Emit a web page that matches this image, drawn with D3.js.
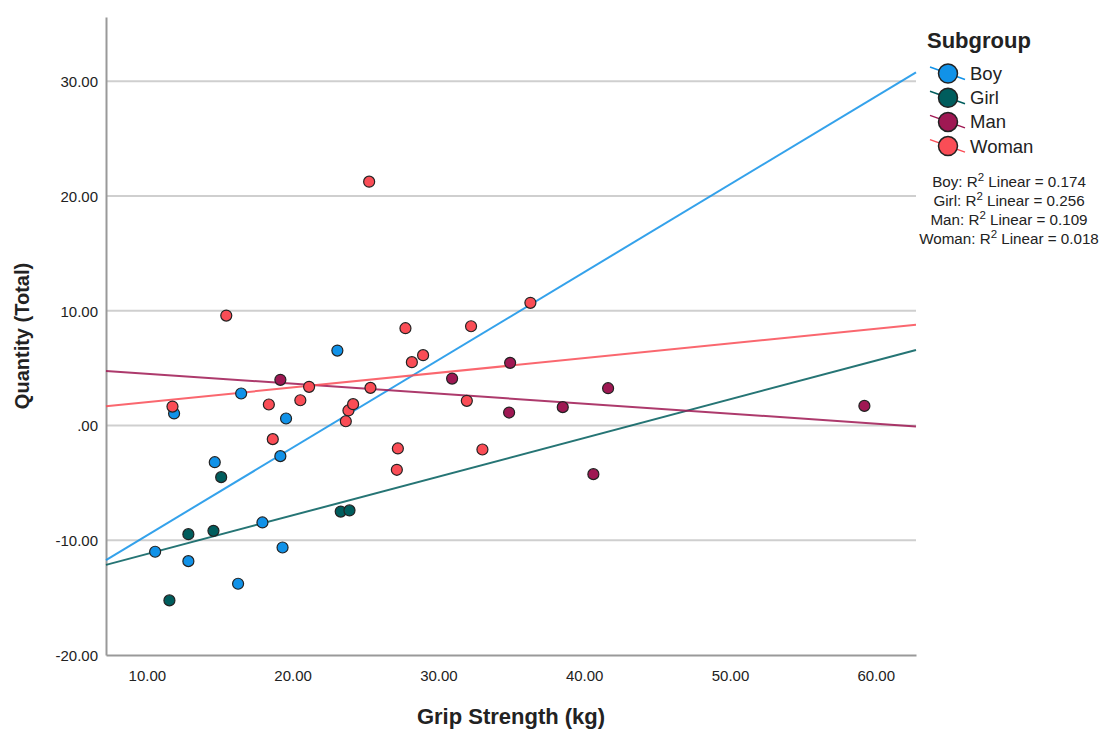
<!DOCTYPE html>
<html>
<head>
<meta charset="utf-8">
<script src="https://cdn.jsdelivr.net/npm/d3@7"></script>
<style>
  body { margin: 0; background: #fff; }
  text { font-family: "Liberation Sans", Arial, sans-serif; fill: #222; }
</style>
</head>
<body>
<svg id="chart" width="1102" height="729"></svg>
<script>
    // values
    var groups = ["Boy", "Girl", "Man", "Woman"];
    var groupColors = ["#1192e8", "#005d5d", "#9f1853", "#fa4d56"];
    var rSquared = ["0.174", "0.256", "0.109", "0.018"];

    var boyX = [11.87, 16.47, 19.55, 14.66, 19.16, 23.07, 10.57, 12.85, 17.93, 19.31, 16.26];
    var boyY = [1.05, 2.79, 0.61, -3.2, -2.67, 6.53, -11.0, -11.82, -8.45, -10.63, -13.79];

    var girlX = [15.1, 12.85, 14.57, 11.55, 23.3, 23.9];
    var girlY = [-4.5, -9.47, -9.18, -15.24, -7.5, -7.4];

    var manX = [19.16, 30.94, 34.92, 34.85, 38.53, 41.64, 40.63, 59.22];
    var manY = [3.98, 4.09, 5.46, 1.13, 1.6, 3.25, -4.24, 1.71];

    var womanX = [11.76, 15.45, 25.25, 18.37, 18.64, 20.53, 21.13, 23.65, 23.83, 24.15,
                  25.34, 27.74, 28.18, 28.95, 32.24, 31.95, 36.31, 27.22, 27.15, 33.02];
    var womanY = [1.65, 9.58, 21.25, 1.83, -1.19, 2.2, 3.37, 0.37, 1.31, 1.86,
                  3.28, 8.48, 5.52, 6.13, 8.65, 2.15, 10.69, -2.0, -3.86, -2.09];

    var xTicks = [10, 20, 30, 40, 50, 60];
    var xTickLabels = ["10.00", "20.00", "30.00", "40.00", "50.00", "60.00"];
    var yTicks = [-20, -10, 0, 10, 20, 30];
    var yTickLabels = ["-20.00", "-10.00", ".00", "10.00", "20.00", "30.00"];

    var seriesX = [boyX, girlX, manX, womanX];
    var seriesY = [boyY, girlY, manY, womanY];

    var svg = d3.select("#chart");

    var x = d3.scaleLinear().domain([7.2, 62.76]).range([106, 916]);
    var y = d3.scaleLinear().domain([-20, 35.6]).range([655, 17]);

    // gridlines
    svg.append("g")
        .selectAll("line")
        .data(yTicks.filter(function (d) { return d > -20; }))
        .enter()
        .append("line")
        .attr("x1", x.range()[0])
        .attr("x2", x.range()[1])
        .attr("y1", function (d) { return y(d); })
        .attr("y2", function (d) { return y(d); })
        .style("stroke", "#cfcfcf")
        .style("stroke-width", 2);

    // axes (no tick marks, SPSS style)
    var xAxis = svg.append("g")
        .attr("transform", "translate(0," + y.range()[0] + ")")
        .call(d3.axisBottom(x).tickValues(xTicks).tickSize(0).tickPadding(15)
            .tickFormat(function (d, i) { return xTickLabels[i]; }));
    var yAxis = svg.append("g")
        .attr("transform", "translate(" + x.range()[0] + ",0)")
        .call(d3.axisLeft(y).tickValues(yTicks).tickSize(0).tickPadding(8)
            .tickFormat(function (d, i) { return yTickLabels[i]; }));

    [xAxis, yAxis].forEach(function (a) {
        a.select(".domain").style("stroke", "#999").style("stroke-width", 2);
        a.selectAll("text").style("font-size", "15px").style("fill", "#222")
            .style("font-family", "'Liberation Sans', Arial, sans-serif");
    });
    yAxis.selectAll("text").attr("dy", "0.36em");

    // linear fit per subgroup
    function fit(xs, ys) {
        var mx = d3.mean(xs), my = d3.mean(ys), sxy = 0, sxx = 0;
        xs.forEach(function (v, i) {
            sxy += (v - mx) * (ys[i] - my);
            sxx += (v - mx) * (v - mx);
        });
        var b = sxy / sxx;
        return { a: my - b * mx, b: b };
    }

    groups.forEach(function (g, i) {
        var f = fit(seriesX[i], seriesY[i]);
        var d0 = x.domain()[0], d1 = x.domain()[1];
        svg.append("line")
            .attr("class", "fit")
            .attr("x1", x(d0)).attr("y1", y(f.a + f.b * d0))
            .attr("x2", x(d1)).attr("y2", y(f.a + f.b * d1))
            .style("stroke", groupColors[i])
            .style("stroke-width", 2)
            .style("opacity", 0.85);
    });

    // points
    groups.forEach(function (g, i) {
        var pts = seriesX[i].map(function (v, j) { return [v, seriesY[i][j]]; });
        svg.append("g")
            .selectAll("circle")
            .data(pts)
            .enter()
            .append("circle")
            .attr("cx", function (d) { return x(d[0]); })
            .attr("cy", function (d) { return y(d[1]); })
            .attr("r", 5.5)
            .style("fill", groupColors[i])
            .style("stroke", "#222")
            .style("stroke-width", 1.2);
    });

    // axis titles
    svg.append("text")
        .attr("x", (x.range()[0] + x.range()[1]) / 2)
        .attr("y", 724)
        .attr("text-anchor", "middle")
        .style("font-size", "22px")
        .style("font-weight", "bold")
        .text("Grip Strength (kg)");

    svg.append("text")
        .attr("transform", "translate(29," + ((y.range()[0] + y.range()[1]) / 2) + ") rotate(-90)")
        .attr("text-anchor", "middle")
        .style("font-size", "20px")
        .style("font-weight", "bold")
        .text("Quantity (Total)");

    // legend
    var legend = svg.append("g");
    legend.append("text")
        .attr("x", 927)
        .attr("y", 48)
        .style("font-size", "22px")
        .style("font-weight", "bold")
        .text("Subgroup");

    var item = legend.selectAll(".item")
        .data(groups)
        .enter()
        .append("g")
        .attr("class", "item")
        .attr("transform", function (d, i) { return "translate(948," + (73.5 + i * 24.2) + ")"; });

    item.append("line")
        .attr("x1", -18).attr("y1", -6.5)
        .attr("x2", 17).attr("y2", 6)
        .style("stroke", function (d, i) { return groupColors[i]; })
        .style("stroke-width", 1.5);
    item.append("circle")
        .attr("r", 9.5)
        .style("fill", function (d, i) { return groupColors[i]; })
        .style("stroke", "#222")
        .style("stroke-width", 1.5);
    item.append("text")
        .attr("x", 22)
        .attr("y", 6.5)
        .style("font-size", "18.5px")
        .text(function (d) { return d; });

    // R squared notes
    var notes = legend.selectAll(".r2")
        .data(groups)
        .enter()
        .append("text")
        .attr("class", "r2")
        .attr("x", 1009)
        .attr("y", function (d, i) { return 187 + i * 19; })
        .attr("text-anchor", "middle")
        .style("font-size", "15.2px");
    notes.append("tspan").text(function (d) { return d + ": R"; });
    notes.append("tspan").attr("dy", -6).style("font-size", "11.5px").text("2");
    notes.append("tspan").attr("dy", 6).text(function (d, i) { return " Linear = " + rSquared[i]; });
</script>
</body>
</html>
